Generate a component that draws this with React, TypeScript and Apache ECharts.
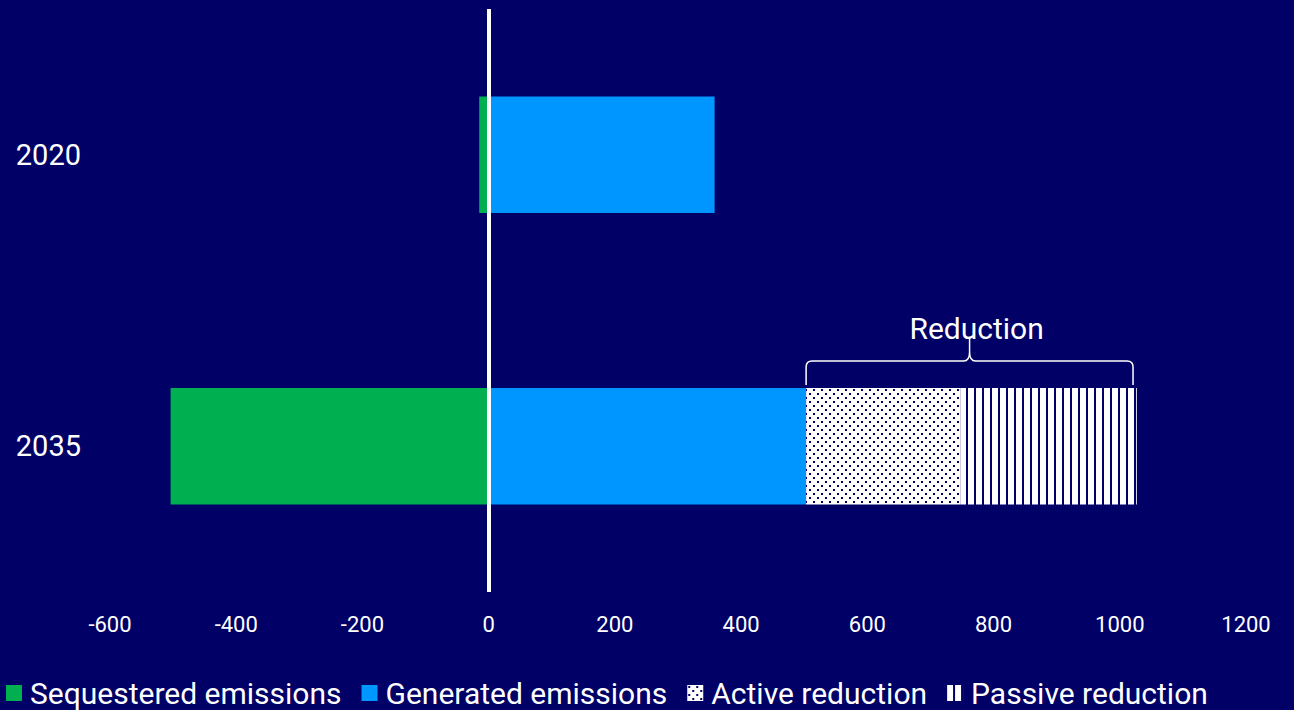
import React, { useEffect, useRef } from "react";
import * as echarts from "echarts";

const categories = ["2020", "2035"];
const seriesNames = ["Sequestered emissions", "Generated emissions", "Active reduction", "Passive reduction"];
const sequestered = [-15, -504];
const generated = [358, 503];
const activeReduction = [null, 245];
const passiveReduction = [null, 279];
const xAxisMin = -600;
const xAxisMax = 1200;
const xAxisStep = 200;
const braceLabel = "Reduction";
const braceFrom = [503];
const braceTo = [1021];
const braceCategory = [1];

const BG = "#000066";
const GREEN = "#00B050";
const BLUE = "#0096FF";
const FONT = "Roboto";

function makeDotPattern() {
  const c = document.createElement("canvas");
  c.width = 8;
  c.height = 8;
  const g = c.getContext("2d")!;
  g.fillStyle = "#ffffff";
  g.fillRect(0, 0, 8, 8);
  g.fillStyle = BG;
  g.fillRect(1, 1, 2, 2);
  g.fillRect(5, 5, 2, 2);
  return c;
}

function makeStripePattern() {
  const c = document.createElement("canvas");
  c.width = 8;
  c.height = 8;
  const g = c.getContext("2d")!;
  g.fillStyle = BG;
  g.fillRect(0, 0, 8, 8);
  g.fillStyle = "#ffffff";
  g.fillRect(0, 0, 6, 8);
  return c;
}

export default function App() {
  const ref = useRef<HTMLDivElement>(null);
  useEffect(() => {
    if (!ref.current) return;
    const chart = echarts.init(ref.current, null, { renderer: "svg" });
    const dots = { image: makeDotPattern(), repeat: "repeat", imageWidth: 8, imageHeight: 8 } as any;
    const stripes = { image: makeStripePattern(), repeat: "repeat", imageWidth: 8, imageHeight: 8 } as any;
    const braceData = braceFrom.map((f, i) => [f, braceTo[i], braceCategory[i]]);
    chart.setOption({
      animation: false,
      backgroundColor: BG,
      textStyle: { fontFamily: FONT },
      grid: { left: 110, right: 48, top: 9, bottom: 118, containLabel: false },
      legend: {
        data: seriesNames,
        left: 6,
        top: 677,
        padding: 0,
        icon: "rect",
        itemWidth: 16,
        itemHeight: 16,
        itemGap: 20,
        textStyle: {
          color: "#ffffff",
          fontSize: 30,
          lineHeight: 32,
          fontFamily: FONT,
          padding: [0, 0, 0, 3],
        },
        selectedMode: false,
      },
      xAxis: {
        type: "value",
        min: xAxisMin,
        max: xAxisMax,
        interval: xAxisStep,
        axisLine: { show: false },
        axisTick: { show: false },
        splitLine: { show: false },
        axisLabel: {
          color: "#ffffff",
          fontSize: 22,
          fontFamily: FONT,
          margin: 21,
          formatter: (v: number) => String(v),
        },
      },
      yAxis: {
        type: "category",
        inverse: true,
        data: categories,
        axisLine: { show: false },
        axisTick: { show: false },
        axisLabel: { color: "#ffffff", fontSize: 29, fontFamily: FONT, margin: 29 },
      },
      series: [
        {
          name: seriesNames[0],
          type: "bar",
          stack: "total",
          barWidth: "40%",
          itemStyle: { color: GREEN },
          data: sequestered,
        },
        {
          name: seriesNames[1],
          type: "bar",
          stack: "total",
          barWidth: "40%",
          itemStyle: { color: BLUE },
          data: generated,
        },
        {
          name: seriesNames[2],
          type: "bar",
          stack: "total",
          barWidth: "40%",
          itemStyle: { color: dots },
          data: activeReduction,
        },
        {
          name: seriesNames[3],
          type: "bar",
          stack: "total",
          barWidth: "40%",
          itemStyle: { color: stripes },
          data: passiveReduction,
          markLine: {
            silent: true,
            symbol: ["none", "none"],
            label: { show: false },
            lineStyle: { color: "#ffffff", width: 4, type: "solid" },
            data: [{ xAxis: 0 }],
          },
        },
        {
          type: "custom",
          name: "brace",
          silent: true,
          z: 10,
          encode: { x: [0, 1], y: 2 },
          data: braceData,
          renderItem: (params: any, api: any) => {
            const cat = api.value(2);
            const p0 = api.coord([api.value(0), cat]);
            const p1 = api.coord([api.value(1), cat]);
            const band = api.size([0, 1])[1];
            const barTop = p0[1] - (band * 0.4) / 2;
            const yb = barTop - 3;
            const yh = yb - 24;
            const ytip = yh - 23;
            const x0 = p0[0];
            const x1 = p1[0];
            const xm = (x0 + x1) / 2;
            const r = 6;
            const d =
              `M${x0},${yb} L${x0},${yh + r} Q${x0},${yh} ${x0 + r},${yh} ` +
              `L${xm - r},${yh} Q${xm},${yh} ${xm},${yh - r * 1.5} L${xm},${ytip} ` +
              `M${xm},${yh - r * 1.5} Q${xm},${yh} ${xm + r},${yh} ` +
              `L${x1 - r},${yh} Q${x1},${yh} ${x1},${yh + r} L${x1},${yb}`;
            return {
              type: "group",
              children: [
                {
                  type: "path",
                  shape: { pathData: d },
                  style: { fill: "none", stroke: "#ffffff", lineWidth: 1.5 },
                },
                {
                  type: "text",
                  style: {
                    text: braceLabel,
                    x: xm + 7,
                    y: ytip - 9,
                    fill: "#ffffff",
                    fontSize: 30,
                    fontFamily: FONT,
                    align: "center",
                    verticalAlign: "middle",
                  },
                },
              ],
            };
          },
        },
      ],
    });
    return () => chart.dispose();
  }, []);
  return (
    <div
      ref={ref}
      style={{ position: "fixed", left: 0, top: 0, width: 1294, height: 710 }}
    />
  );
}
